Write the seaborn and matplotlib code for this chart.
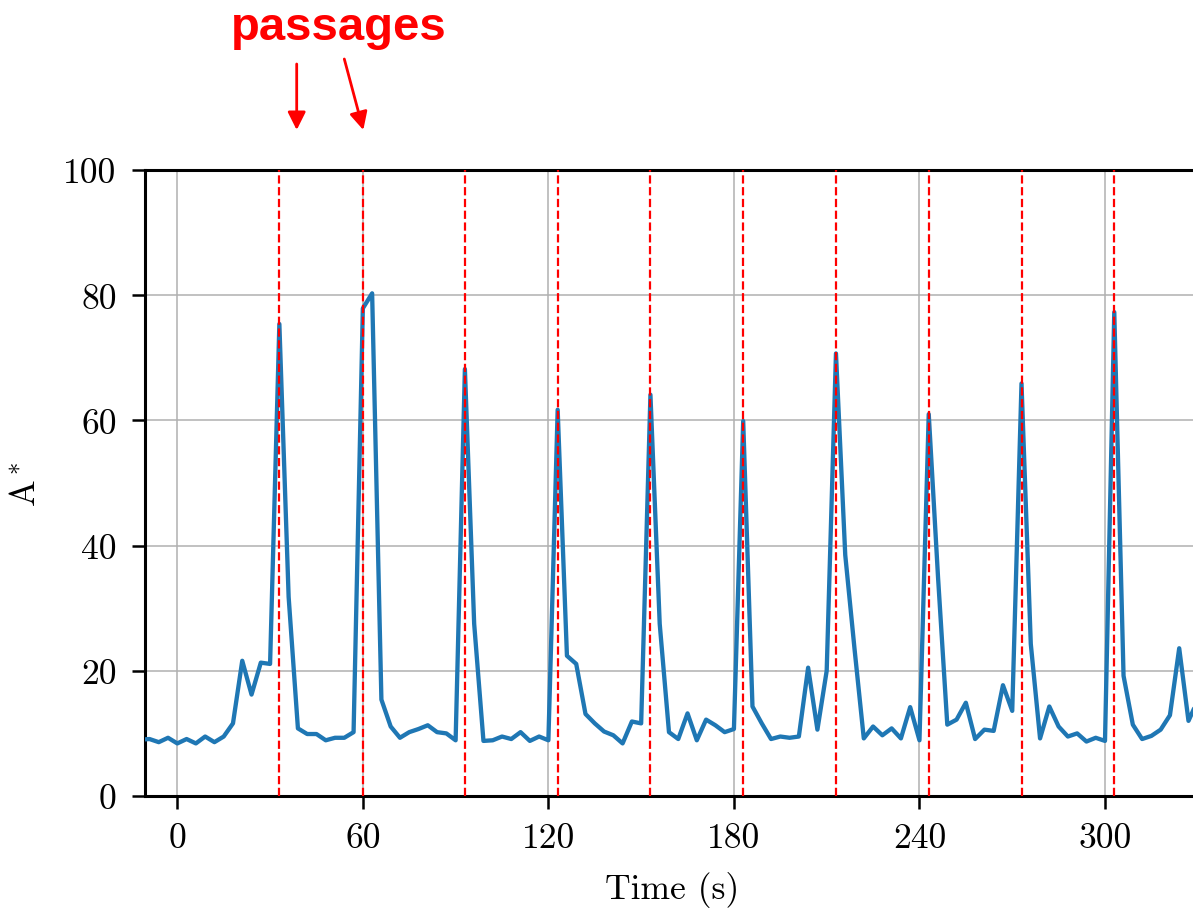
import matplotlib
matplotlib.use("Agg")
import matplotlib.pyplot as plt
import seaborn as sns
import pandas as pd
import numpy as np

# ---- data ----
time_s = list(range(-12, 334, 3))
a_star = [
    9.0, 9.1, 8.6, 9.3, 8.4, 9.1, 8.4, 9.5, 8.6, 9.5,          # -12 .. 15
    11.6, 21.6, 16.2, 21.3, 21.1, 75.4, 31.8, 10.8, 9.9, 9.9,   # 18 .. 45
    8.9, 9.3, 9.3, 10.2, 77.9, 80.3, 15.4, 11.1, 9.3, 10.2,     # 48 .. 75
    10.7, 11.3, 10.2, 10.0, 8.9, 68.2, 27.5, 8.8, 8.9, 9.5,     # 78 .. 105
    9.1, 10.2, 8.8, 9.5, 8.9, 61.7, 22.4, 21.1, 13.1, 11.6,     # 108 .. 135
    10.3, 9.7, 8.4, 11.9, 11.6, 64.1, 27.5, 10.2, 9.1, 13.2,    # 138 .. 165
    8.9, 12.2, 11.3, 10.2, 10.7, 59.9, 14.3, 11.6, 9.1, 9.5,    # 168 .. 195
    9.3, 9.5, 20.5, 10.6, 20.0, 70.7, 38.5, 23.5, 9.2, 11.1,    # 198 .. 225
    9.7, 10.8, 9.2, 14.2, 8.9, 61.0, 35.0, 11.4, 12.2, 14.9,    # 228 .. 255
    9.1, 10.6, 10.4, 17.7, 13.6, 65.9, 24.3, 9.2, 14.3, 11.1,   # 258 .. 285
    9.5, 10.0, 8.7, 9.3, 8.8, 77.3, 19.2, 11.4, 9.1, 9.6,       # 288 .. 315
    10.6, 12.9, 23.6, 12.0, 15.3, 16.5,                         # 318 .. 333
]
passage_times = [33, 60, 93, 123, 153, 183, 213, 243, 273, 303]
x_ticks = [0, 60, 120, 180, 240, 300]
y_ticks = [0, 20, 40, 60, 80, 100]

df = pd.DataFrame({"Time (s)": time_s, "A*": a_star})

sns.set_style("white")
plt.rcParams["font.family"] = ["cmr10", "DejaVu Serif"]
plt.rcParams["mathtext.fontset"] = "cm"
plt.rcParams["axes.formatter.use_mathtext"] = True
plt.rcParams["text.color"] = "black"
plt.rcParams["axes.labelcolor"] = "black"

W, H = 1193, 912
fig = plt.figure(figsize=(W / 100, H / 100), dpi=100)
fig.patch.set_facecolor("white")

ax_l, ax_r, ax_t, ax_b = 145, 1199, 171, 797
ax = fig.add_axes([ax_l / W, 1 - ax_b / H, (ax_r - ax_l) / W, (ax_b - ax_t) / H])
ax.set_facecolor("white")
ax.set_axisbelow(True)

sns.lineplot(data=df, x="Time (s)", y="A*", ax=ax, color="#1f77b4",
             linewidth=3.1, zorder=3)

for t in passage_times:
    ax.axvline(t, color="red", linestyle="--", linewidth=1.6, zorder=4)

ax.set_xlim(-10.45, 330.4)
ax.set_ylim(0, 100)
ax.set_xticks(x_ticks, labels=[str(v) for v in x_ticks])
ax.set_yticks(y_ticks, labels=[str(v) for v in y_ticks])
ax.grid(True, color="#b0b0b0", linewidth=1.1)

for s in ax.spines.values():
    s.set_linewidth(2.2)
    s.set_color("black")

ax.tick_params(axis="both", direction="out", length=9.5, width=1.8,
               labelsize=25.6, colors="black",
               bottom=True, left=True, top=False, right=False)
ax.tick_params(axis="x", pad=9.7)
ax.tick_params(axis="y", pad=11)

ax.set_xlabel("Time (s)", fontsize=25.6, color="black")
ax.set_ylabel(r"A$^*$", fontsize=25.6, color="black")
ax.xaxis.set_label_coords(0.5, -0.12)
ax.yaxis.set_label_coords(-0.098, 0.5)

# annotation "passages"
fig.text(339 / W, 1 - 40 / H, "passages", color="red", fontsize=34,
         fontweight="bold", family="Liberation Sans", ha="center",
         va="baseline")
arrow_kw = dict(arrowstyle="-|>,head_length=0.4,head_width=0.2", color="red",
                lw=2.0, mutation_scale=27, shrinkA=0, shrinkB=0)
fig.add_artist(matplotlib.patches.FancyArrowPatch(
    (296.7 / W, 1 - 65 / H), (296.7 / W, 1 - 131 / H),
    transform=fig.transFigure, **arrow_kw))
fig.add_artist(matplotlib.patches.FancyArrowPatch(
    (344.3 / W, 1 - 60 / H), (363.3 / W, 1 - 131 / H),
    transform=fig.transFigure, **arrow_kw))

fig.savefig("out.png", dpi=100, facecolor="white")
